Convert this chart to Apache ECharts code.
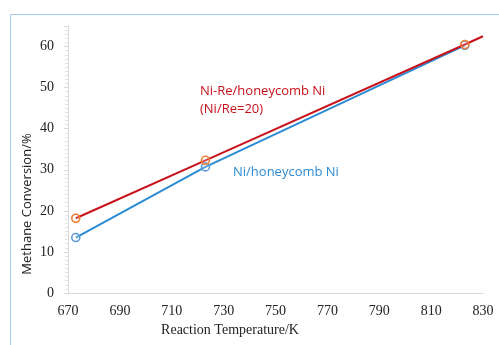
<!DOCTYPE html>
<html>
<head>
<meta charset="utf-8">
<script src="https://cdn.jsdelivr.net/npm/echarts@6/dist/echarts.min.js"></script>
<style>html,body{margin:0;padding:0;background:#fff;}#c{width:499px;height:345px;}</style>
</head>
<body>
<div id="c"></div>
<script>
// Data
const temperatures = [673, 723, 823];
const niReValues = [18.2, 32.3, 60.5];
const niReExtension = [830, 62.5]; // line continues to axis end without marker
const niValues = [13.5, 30.7, 60.3];
const xTicks = [670, 690, 710, 730, 750, 770, 790, 810, 830];
const yTicks = [0, 10, 20, 30, 40, 50, 60];
const seriesNames = ['Ni-Re/honeycomb Ni (Ni/Re=20)', 'Ni/honeycomb Ni'];

const chart = echarts.init(document.getElementById('c'), null, {renderer: 'canvas'});

const redData = temperatures.map((t, i) => [t, niReValues[i]]);
redData.push({value: niReExtension, symbol: 'none'});
const blueData = temperatures.map((t, i) => [t, niValues[i]]);

const serif = 'Liberation Serif';
const sans = '"Open Sans", "Liberation Sans", sans-serif';

chart.setOption({
  animation: false,
  backgroundColor: '#fff',
  grid: {left: 68, right: 16, top: 26, bottom: 52},
  xAxis: {
    type: 'value',
    min: xTicks[0], max: xTicks[xTicks.length - 1], interval: 20,
    axisLine: {show: true, lineStyle: {color: '#d9d9d9', width: 1}},
    axisTick: {show: false},
    splitLine: {show: false},
    axisLabel: {color: '#222', fontFamily: serif, fontSize: 14, margin: 11}
  },
  yAxis: {
    type: 'value',
    min: yTicks[0], max: 65, interval: 10,
    axisLine: {show: true, lineStyle: {color: '#d9d9d9', width: 1}},
    axisTick: {show: true, length: 4, lineStyle: {color: '#d9d9d9'}},
    minorTick: {show: true, splitNumber: 10, length: 3, lineStyle: {color: '#e3e3e3'}},
    splitLine: {show: false},
    axisLabel: {color: '#222', fontFamily: serif, fontSize: 14, margin: 14, showMaxLabel: false,
      formatter: v => (yTicks.indexOf(v) >= 0 ? String(v) : '')}
  },
  series: [
    {
      name: seriesNames[1], type: 'line', data: blueData, z: 2,
      lineStyle: {color: '#2a8bd4', width: 2},
      symbol: 'circle', symbolSize: 8,
      itemStyle: {color: 'rgba(255,255,255,0.2)', borderColor: '#5b9bd5', borderWidth: 1.6}
    },
    {
      name: seriesNames[0], type: 'line', data: redData, z: 3,
      lineStyle: {color: '#c8111a', width: 2},
      symbol: 'circle', symbolSize: 8,
      itemStyle: {color: 'rgba(255,255,255,0.2)', borderColor: '#ed7d31', borderWidth: 1.6}
    }
  ],
  graphic: [
    {type: 'rect', left: 8, top: 12, shape: {width: 600, height: 400}, silent: true, z: -1,
      style: {fill: 'none', stroke: '#a9cbea', lineWidth: 1}},
    {type: 'text', left: 200, top: 85, style: {text: 'Ni-Re/honeycomb Ni', fill: '#c8111a', font: '13px ' + sans}},
    {type: 'text', left: 200, top: 103, style: {text: '(Ni/Re=20)', fill: '#c8111a', font: '13px ' + sans}},
    {type: 'text', left: 233, top: 166, style: {text: 'Ni/honeycomb Ni', fill: '#2a8bd4', font: '13px ' + sans}},
    {type: 'text', x: 230, y: 330, style: {text: 'Reaction Temperature/K', fill: '#222', font: '14px "Liberation Serif"', align: 'center', verticalAlign: 'middle'}},
    {type: 'text', x: 27, y: 204, rotation: Math.PI / 2, style: {text: 'Methane Conversion/%', fill: '#222', font: '13px ' + sans, align: 'center', verticalAlign: 'middle'}}
  ]
});
</script>
</body>
</html>
